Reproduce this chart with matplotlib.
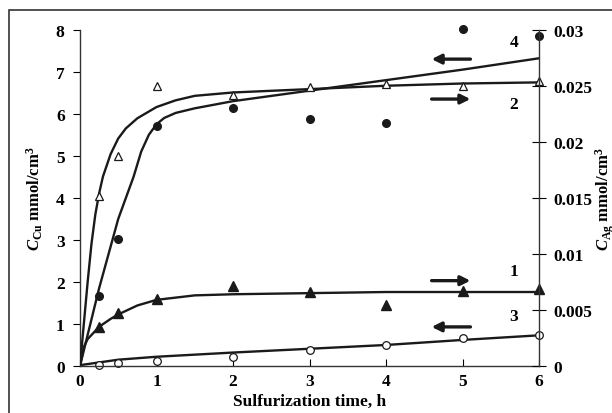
import matplotlib.pyplot as plt
from matplotlib.patches import Rectangle

plt.rcParams['font.family'] = ['Liberation Serif', 'DejaVu Serif']
plt.rcParams['font.weight'] = 'bold'
plt.rcParams['axes.labelweight'] = 'bold'
plt.rcParams['mathtext.fontset'] = 'custom'
plt.rcParams['mathtext.rm'] = 'Liberation Serif:bold'
plt.rcParams['mathtext.it'] = 'Liberation Serif:italic:bold'

t_pts = [0.25, 0.5, 1, 2, 3, 4, 5, 6]
# left axis (mmol/cm3)
pts4 = [1.67, 3.02, 5.71, 6.13, 5.87, 5.77, 8.02, 7.84]
pts3 = [0.02, 0.08, 0.12, 0.21, 0.37, 0.50, 0.66, 0.74]
# right axis (mmol/cm3)
pts2 = [0.0152, 0.0187, 0.0250, 0.0242, 0.0249, 0.0252, 0.0250, 0.0254]
pts1 = [0.0035, 0.0047, 0.0060, 0.0071, 0.0066, 0.0054, 0.0067, 0.0069]

t4 = [0, 0.25, 0.5, 0.7, 0.8, 0.9, 1, 1.1, 1.25, 1.5, 2, 3, 4, 5, 6]
fit4 = [0, 1.85, 3.5, 4.5, 5.1, 5.5, 5.75, 5.9, 6.02, 6.13, 6.3, 6.55, 6.8, 7.05, 7.32]
t2 = [0, 0.05, 0.1, 0.15, 0.2, 0.25, 0.3, 0.4, 0.5, 0.6, 0.75, 1, 1.25, 1.5, 2, 3, 4, 5, 6]
fit2 = [0, 0.00375, 0.0075, 0.0109, 0.0135, 0.0154, 0.0169, 0.0189, 0.0203, 0.0212,
        0.0221, 0.0231, 0.0237, 0.0241, 0.0244, 0.0247, 0.0250, 0.0252, 0.0253]
t1 = [0, 0.05, 0.1, 0.25, 0.4, 0.5, 0.75, 1, 1.25, 1.5, 2, 3, 4, 6]
fit1 = [0, 0.0017, 0.0024, 0.0035, 0.0042, 0.0046, 0.0054, 0.0059, 0.0061, 0.0063,
        0.0064, 0.0065, 0.0066, 0.0066]
t3 = [0, 0.5, 1, 2, 3, 4, 5, 6]
fit3 = [0.02, 0.15, 0.22, 0.32, 0.41, 0.50, 0.62, 0.73]

fig = plt.figure(figsize=(6.12, 4.14), dpi=100)
fig.patches.append(Rectangle((8.5 / 612, -0.5), 2, 1.5 - 11 / 414, transform=fig.transFigure,
                             fill=False, lw=1.2, ec='#333333'))
ax = fig.add_axes([80 / 612, 1 - 367 / 414, 459 / 612, (367 - 30.7) / 414])
ax2 = ax.twinx()

lw = 1.7
ax.plot(t4, fit4, color='#1a1a1a', lw=lw)
ax.plot(t3, fit3, color='#1a1a1a', lw=lw)
ax.plot(t_pts, pts4, 'o', color='#1a1a1a', ms=5.5, clip_on=False)
ax.plot(t_pts, pts3, 'o', mfc='white', mec='#1a1a1a', mew=0.9, ms=5.5, clip_on=False)
ax2.plot(t2, fit2, color='#1a1a1a', lw=lw)
ax2.plot(t1, fit1, color='#1a1a1a', lw=lw)
ax2.plot(t_pts, pts2, '^', mfc='white', mec='#1a1a1a', mew=0.9, ms=6, clip_on=False)
ax2.plot(t_pts, pts1, '^', color='#1a1a1a', ms=6.5, clip_on=False)

ax.set_xlim(0, 6)
ax.set_ylim(0, 8)
ax2.set_ylim(0, 0.03)
ax.set_xticks(range(7))
ax.set_yticks(range(9))
ax2.set_yticks([0, 0.005, 0.01, 0.015, 0.02, 0.025, 0.03])
ax2.set_yticklabels(['0', '0.005', '0.01', '0.015', '0.02', '0.025', '0.03'])

for a in (ax, ax2):
    a.spines['top'].set_visible(False)
    for s in a.spines.values():
        s.set_color('#333333')
        s.set_linewidth(1.0)
ax.spines['right'].set_visible(False)
ax2.spines['left'].set_visible(False)
ax2.spines['bottom'].set_visible(False)
ax.tick_params(axis='y', direction='out', length=5, labelsize=12.5, pad=6)
ax.tick_params(axis='x', direction='in', length=5, labelsize=12.5, pad=5)
ax2.tick_params(axis='y', direction='inout', length=10, labelsize=12.5, pad=5)

ax.set_xlabel('Sulfurization time, h', fontsize=12.5, labelpad=3)
ax.set_ylabel(r'$C_{\mathrm{Cu}}$ mmol/cm$^3$', fontsize=12, labelpad=8)
ax2.set_ylabel(r'$C_{\mathrm{Ag}}$ mmol/cm$^3$', fontsize=12, labelpad=1)

arrow = dict(arrowstyle='-|>', color='#1a1a1a', lw=2.4, mutation_scale=14)
ax.annotate('', xy=(4.56, 7.30), xytext=(5.14, 7.30), arrowprops=arrow)
ax.annotate('', xy=(5.14, 6.35), xytext=(4.56, 6.35), arrowprops=arrow)
ax.annotate('', xy=(5.14, 2.03), xytext=(4.56, 2.03), arrowprops=arrow)
ax.annotate('', xy=(4.56, 0.93), xytext=(5.14, 0.93), arrowprops=arrow)
for lab, y in [('4', 7.70), ('2', 6.23), ('1', 2.26), ('3', 1.19)]:
    ax.text(5.67, y, lab, fontsize=12.5, ha='center', va='center')

fig.savefig('out.png', dpi=100)
